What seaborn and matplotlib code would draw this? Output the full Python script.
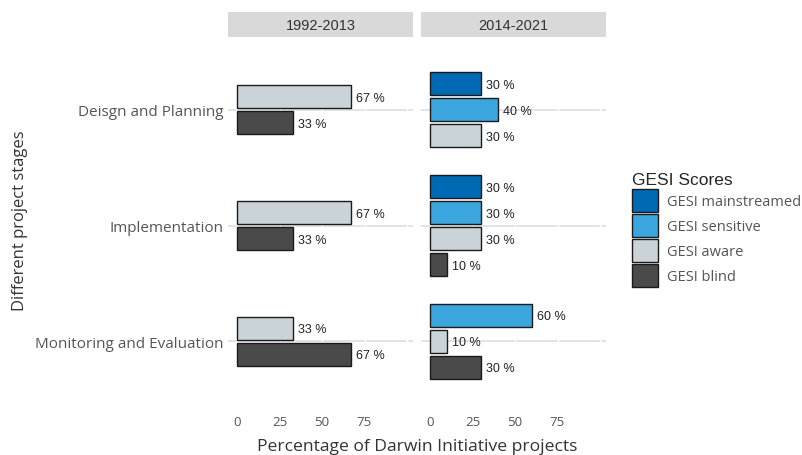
import numpy as np
import pandas as pd
import seaborn as sns
import matplotlib.pyplot as plt
from matplotlib.patches import Patch

sns.set_style("white")
plt.rcParams['font.family'] = ['Open Sans', 'DejaVu Sans']

stages = ["Deisgn and Planning", "Implementation", "Monitoring and Evaluation"]
scores = ["GESI mainstreamed", "GESI sensitive", "GESI aware", "GESI blind"]
periods = ["1992-2013", "2014-2021"]
colors = ["#0069b4", "#3ba5dd", "#c9d3d8", "#4a4a4a"]

# percentages per stage (None = no bar)
old_mainstreamed = [None, None, None]
old_sensitive = [None, None, None]
old_aware = [67, 67, 33]
old_blind = [33, 33, 67]

new_mainstreamed = [30, 30, None]
new_sensitive = [40, 30, 60]
new_aware = [30, 30, 10]
new_blind = [None, 10, 30]

values = {
    "1992-2013": [old_mainstreamed, old_sensitive, old_aware, old_blind],
    "2014-2021": [new_mainstreamed, new_sensitive, new_aware, new_blind],
}

rows = []
for p in periods:
    for si, s in enumerate(stages):
        for ki, k in enumerate(scores):
            v = values[p][ki][si]
            if v is not None:
                rows.append({"period": p, "stage": s, "stage_i": si, "score": k, "pct": v})
df = pd.DataFrame(rows)

# centre the bars present in each stage (like dodge with preserve single)
step = 0.225
df["rank"] = df.groupby(["period", "stage"]).cumcount()
df["n"] = df.groupby(["period", "stage"])["score"].transform("count")
df["ypos"] = df["stage_i"] + (df["rank"] - (df["n"] - 1) / 2) * step

fig = plt.figure(figsize=(8.03, 4.56), dpi=100)
W, H = 803, 456
panel_x = [228, 421]
pw = 185
top, bottom = 39, 414

for i, p in enumerate(periods):
    ax = fig.add_axes([panel_x[i] / W, (H - bottom) / H, pw / W, (bottom - top) / H])
    sub = df[df["period"] == p]

    for s_i in range(len(stages)):
        ax.axhline(s_i, color="#dde2e8", lw=1.3, zorder=0)
    for xv in [0, 25, 50, 75, 100]:
        ax.axvline(xv, color="white", lw=1.0, zorder=0.5)

    sns.barplot(data=sub, x="pct", y="ypos", hue="score", hue_order=scores,
                palette=colors, saturation=1, orient="h", native_scale=True,
                dodge=False, width=0.2 / step, errorbar=None, edgecolor="#1a1a1a",
                linewidth=1.0, legend=False, ax=ax, zorder=2)

    for _, r in sub.iterrows():
        ax.text(r["pct"] + 2.8, r["ypos"] + 0.01, f"{r['pct']} %", ha="left", va="center",
                fontsize=9, color="#222222", family="Liberation Sans", zorder=3)

    ax.set_xlim(-5.3, 103.5)
    ax.set_ylim(2.62, -0.62)
    ax.set_xticks([0, 25, 50, 75])
    ax.set_xticklabels(["0", "25", "50", "75"], fontsize=9.5, color="#555555")
    ax.set_yticks(range(len(stages)))
    if i == 0:
        ax.set_yticklabels(stages, fontsize=11, color="#555555")
    else:
        ax.set_yticklabels([])
    ax.tick_params(length=0, axis="x", pad=1.5)
    ax.tick_params(length=0, axis="y", pad=3)
    ax.set_xlabel("")
    ax.set_ylabel("")
    for sp in ax.spines.values():
        sp.set_visible(False)

    strip = fig.add_axes([panel_x[i] / W, (H - 38) / H, pw / W, 25 / H])
    strip.set_facecolor("#d9d9d9")
    strip.set_xticks([])
    strip.set_yticks([])
    for sp in strip.spines.values():
        sp.set_visible(False)
    strip.text(0.5, 0.5, p, ha="center", va="center", fontsize=10.5,
               color="#333333", family="Liberation Sans")

fig.text(20 / W, 1 - 221 / H, "Different project stages", rotation=90, ha="center",
         va="center", fontsize=12, color="#333333")
fig.text(417 / W, 0.5 / H, "Percentage of Darwin Initiative projects",
         ha="center", va="bottom", fontsize=12.6, color="#333333")

handles = [Patch(facecolor=c, edgecolor="#1a1a1a", lw=1.0) for c in colors]
leg = fig.legend(handles, scores, loc="upper left",
                 bbox_to_anchor=(632 / W, 1 - 173 / H), frameon=False,
                 title="GESI Scores", fontsize=10.5, handlelength=1.8,
                 handleheight=2.05, labelspacing=0.14, handletextpad=0.6,
                 borderpad=0, borderaxespad=0, alignment="left")
leg.get_title().set_fontfamily("Liberation Sans")
leg.get_title().set_fontsize(12.5)
for t in leg.get_texts():
    t.set_color("#555555")

fig.savefig("out.png", dpi=100)
